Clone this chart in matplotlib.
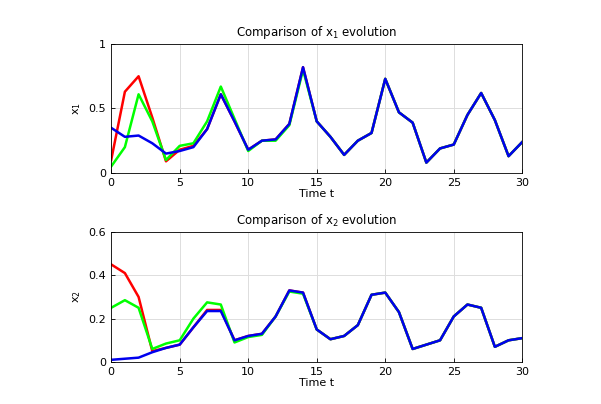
import matplotlib
matplotlib.use('Agg')
import matplotlib.pyplot as plt
import numpy as np

t = np.arange(31)

x1_blue = [0.35, 0.28, 0.29, 0.23, 0.15, 0.17, 0.20, 0.34, 0.61, 0.40, 0.18, 0.25, 0.26, 0.38, 0.82,
           0.40, 0.28, 0.14, 0.25, 0.31, 0.73, 0.47, 0.39, 0.08, 0.19, 0.22, 0.45, 0.62, 0.41, 0.13, 0.24]
x1_red = [0.10, 0.63, 0.75, 0.43, 0.09, 0.18, 0.21] + x1_blue[7:]
x1_green = [0.05, 0.20, 0.61, 0.40, 0.10, 0.21, 0.23, 0.40, 0.67, 0.42, 0.17, 0.25, 0.25, 0.37, 0.80] + x1_blue[15:]

x2_blue = [0.01, 0.015, 0.02, 0.045, 0.065, 0.08, 0.16, 0.235, 0.235, 0.10, 0.12, 0.13, 0.21, 0.33, 0.32,
           0.15, 0.105, 0.12, 0.17, 0.31, 0.32, 0.23, 0.06, 0.08, 0.10, 0.21, 0.265, 0.25, 0.07, 0.10, 0.11]
x2_red = [0.45, 0.41, 0.30, 0.05, 0.065, 0.08, 0.16, 0.24, 0.24] + x2_blue[9:]
x2_green = [0.25, 0.285, 0.25, 0.06, 0.085, 0.10, 0.20, 0.275, 0.265, 0.09, 0.115, 0.125, 0.21, 0.325, 0.315] + x2_blue[15:]

x1_ticks = [0, 0.5, 1]
x1_ticklabels = ['0', '0.5', '1']
x2_ticks = [0, 0.2, 0.4, 0.6]
x2_ticklabels = ['0', '0.2', '0.4', '0.6']

plt.rcParams['font.size'] = 8
fig = plt.figure(figsize=(6.01, 4.04), dpi=100)
ax1 = fig.add_axes([0.185, 0.572, 0.684, 0.319])
ax2 = fig.add_axes([0.185, 0.104, 0.684, 0.322])


def style(ax, ymax, yticks, yticklabels, ylabel, title):
    ax.set_xlim(0, 30)
    ax.set_ylim(0, ymax)
    ax.set_xticks([0, 5, 10, 15, 20, 25, 30])
    ax.set_yticks(yticks)
    ax.set_yticklabels(yticklabels)
    ax.grid(True, color='#dddddd', linewidth=0.7)
    ax.set_axisbelow(True)
    ax.tick_params(direction='in', length=3, width=0.6)
    for s in ax.spines.values():
        s.set_linewidth(0.6)
    ax.set_xlabel('Time t', labelpad=1)
    ax.set_ylabel(ylabel)
    ax.set_title(title, fontsize=8.5)


for ax, data in [(ax1, (x1_red, x1_green, x1_blue)), (ax2, (x2_red, x2_green, x2_blue))]:
    for d, c in zip(data, ['#ff0000', '#00ff00', '#0000ee']):
        ax.plot(t, d, color=c, linewidth=1.8)

style(ax1, 1, x1_ticks, x1_ticklabels, '$\\mathregular{x_1}$', 'Comparison of $\\mathregular{x_1}$ evolution')
style(ax2, 0.6, x2_ticks, x2_ticklabels, '$\\mathregular{x_2}$', 'Comparison of $\\mathregular{x_2}$ evolution')

fig.savefig('out.png', dpi=100)
